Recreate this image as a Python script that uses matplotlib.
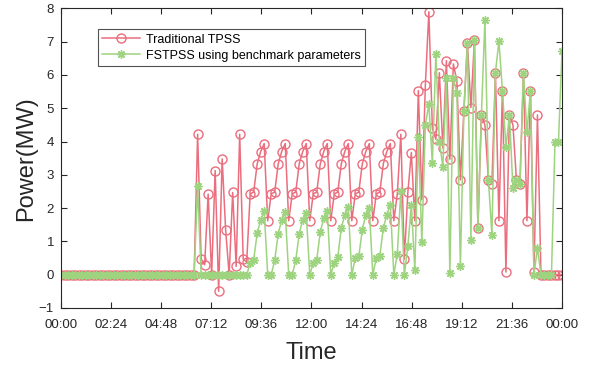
import matplotlib
matplotlib.use("Agg")
import matplotlib.pyplot as plt
import numpy as np

plt.rcParams['font.family'] = ['Liberation Sans', 'DejaVu Sans']

# 10-minute resolution power profiles (MW), 144 samples across one day
traditional_tpss = [
    0, 0, 0, 0, 0, 0, 0, 0, 0, 0, 0, 0, 0, 0, 0, 0, 0, 0, 0, 0,
    0, 0, 0, 0, 0, 0, 0, 0, 0, 0, 0, 0, 0, 0, 0, 0, 0, 0, 0,
    4.22, 0.47, 0.30, 2.42, 0.00, 3.13, -0.50, 3.48, 1.33, 0.00, 2.47, 0.25, 4.22, 0.47,
    0.38,
    2.43, 2.48, 3.33, 3.70, 3.94, 1.62,
    2.43, 2.48, 3.33, 3.70, 3.94, 1.62,
    2.43, 2.48, 3.33, 3.70, 3.94, 1.62,
    2.43, 2.48, 3.33, 3.70, 3.94, 1.62,
    2.43, 2.48, 3.33, 3.70, 3.94, 1.62,
    2.43, 2.48, 3.33, 3.70, 3.94, 1.62,
    2.43, 2.48, 3.33, 3.70, 3.94, 1.62,
    2.43, 4.22, 0.47, 2.47, 3.67, 1.62, 5.53, 2.25, 5.70, 7.90,
    4.40, 4.07, 6.07, 3.80, 6.43, 3.47, 6.33, 5.82, 2.85, 4.93, 6.97, 5.02, 7.05, 1.40,
    4.80, 4.50, 2.85, 2.73, 6.07, 1.62, 5.53, 0.08,
    4.80, 4.50, 2.85, 2.73, 6.07, 1.62, 5.53, 0.08, 4.80,
    0, 0, 0, 0, 0, 0, 0,
]

fstpss_benchmark = [
    0, 0, 0, 0, 0, 0, 0, 0, 0, 0, 0, 0, 0, 0, 0, 0, 0, 0, 0, 0,
    0, 0, 0, 0, 0, 0, 0, 0, 0, 0, 0, 0, 0, 0, 0, 0, 0, 0, 0,
    2.65,
    0, 0, 0, 0, 0, 0, 0, 0, 0, 0, 0, 0, 0,
    0.00, 0.35, 0.45, 1.25, 1.65, 1.90,
    0.00, 0.00, 0.43, 1.23, 1.65, 1.88,
    0.00, 0.00, 0.43, 1.23, 1.65, 1.85,
    0.00, 0.35, 0.45, 1.28, 1.70, 1.92,
    0.00, 0.35, 0.53, 1.40, 1.80, 2.03,
    0.00, 0.50, 0.55, 1.35, 1.80, 2.00,
    0.00, 0.50, 0.57, 1.40, 1.80, 2.10,
    0.00, 0.63, 2.50, 0.00, 0.85, 2.10, 0.13, 4.15, 0.97, 4.50, 5.12,
    3.35, 6.63, 4.00, 3.25, 5.92, 0.05, 5.90, 5.45, 0.25, 4.93, 6.97, 1.05, 7.05, 1.40, 4.80, 7.65,
    2.85, 1.20, 6.07, 7.02, 5.53, 3.83, 4.80, 2.60, 2.85, 2.73, 6.07, 4.28, 5.53, 0.00, 0.80,
    0, 0, 0, 0,
    4.00, 4.00, 6.72,
]

series_labels = ["Traditional TPSS", "FSTPSS using benchmark parameters"]
xtick_labels = ["00:00", "02:24", "04:48", "07:12", "09:36", "12:00",
                "14:24", "16:48", "19:12", "21:36", "00:00"]
ytick_values = [-1, 0, 1, 2, 3, 4, 5, 6, 7, 8]

red = '#EB6E7E'
green = '#9ED37F'
axcol = '#262626'

hours = np.linspace(0, 24, len(traditional_tpss))

fig = plt.figure(figsize=(5.94, 3.66), dpi=100)
ax = fig.add_axes([0.1027, 0.1585, 0.8434, 0.8185])

ax.plot(hours, traditional_tpss, color=red, lw=1.1, marker='o', ms=6.5,
        mfc='none', mec=red, mew=1.0, label=series_labels[0])
ax.plot(hours, fstpss_benchmark, color=green, lw=1.1, marker=(8, 2, 0), ms=6,
        mec=green, mew=1.0, label=series_labels[1])

ax.set_xlim(0, 24)
ax.set_ylim(-1, 8)
ax.set_xticks(np.linspace(0, 24, len(xtick_labels)))
ax.set_xticklabels(xtick_labels)
ax.set_yticks(ytick_values)

ax.tick_params(direction='in', length=4.5, width=0.8, colors=axcol,
               labelsize=9.5, top=True, right=True)
ax.tick_params(axis='x', pad=8)
ax.tick_params(axis='y', pad=5)
for s in ax.spines.values():
    s.set_color(axcol)
    s.set_linewidth(0.8)

ax.set_xlabel('Time', fontsize=17, color=axcol, labelpad=8)
ax.set_ylabel('Power(MW)', fontsize=17, color=axcol, labelpad=1)

leg = ax.legend(loc='upper left', bbox_to_anchor=(0.074, 0.93), borderaxespad=0,
                fontsize=9, frameon=True, fancybox=False, numpoints=1,
                handlelength=3.0, handletextpad=0.5, borderpad=0.35,
                labelspacing=0.3)
leg.get_frame().set_edgecolor(axcol)
leg.get_frame().set_linewidth(0.8)

fig.savefig('out.png', dpi=100)
